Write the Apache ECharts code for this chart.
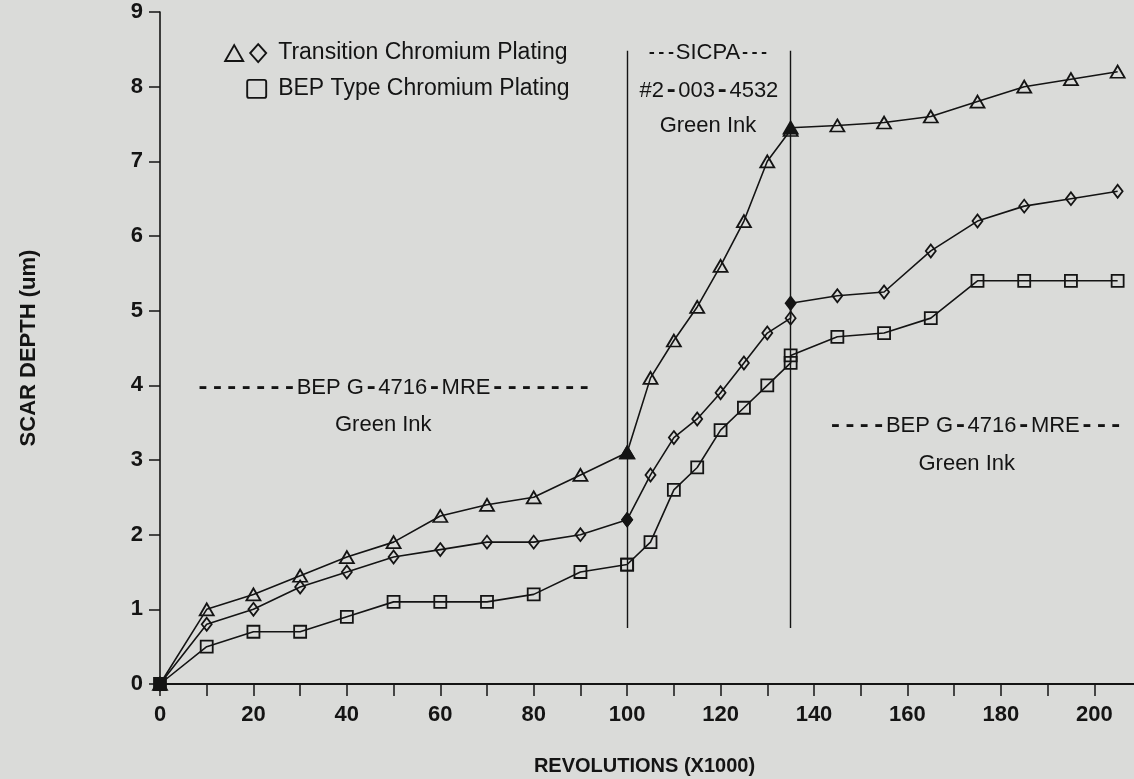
<!DOCTYPE html>
<html>
<head>
<meta charset="utf-8">
<script src="https://cdn.jsdelivr.net/npm/echarts@6/dist/echarts.min.js"></script>
<style>
  html, body { margin: 0; padding: 0; background: #dadbd9; }
  #chart { width: 1134px; height: 779px; }
</style>
</head>
<body>
<div id="chart"></div>
<script>
// Revolutions (x1000) read in each ink phase
const phase1Revs = [0, 10, 20, 30, 40, 50, 60, 70, 80, 90, 100];   // BEP G-4716-MRE
const phase2Revs = [100, 105, 110, 115, 120, 125, 130, 135];        // SICPA #2-003-4532
const phase3Revs = [135, 145, 155, 165, 175, 185, 195, 205];        // BEP G-4716-MRE

// Scar depth (um), transition chromium plating, triangle specimen
const triPhase1 = [0, 1.0, 1.2, 1.45, 1.7, 1.9, 2.25, 2.4, 2.5, 2.8, 3.1];
const triPhase2 = [3.1, 4.1, 4.6, 5.05, 5.6, 6.2, 7.0, 7.42];
const triPhase3 = [7.45, 7.48, 7.52, 7.6, 7.8, 8.0, 8.1, 8.2];

// Scar depth (um), transition chromium plating, diamond specimen
const diaPhase1 = [0, 0.8, 1.0, 1.3, 1.5, 1.7, 1.8, 1.9, 1.9, 2.0, 2.2];
const diaPhase2 = [2.2, 2.8, 3.3, 3.55, 3.9, 4.3, 4.7, 4.9];
const diaPhase3 = [5.1, 5.2, 5.25, 5.8, 6.2, 6.4, 6.5, 6.6];

// Scar depth (um), BEP type chromium plating
const sqPhase1 = [0, 0.5, 0.7, 0.7, 0.9, 1.1, 1.1, 1.1, 1.2, 1.5, 1.6];
const sqPhase2 = [1.6, 1.9, 2.6, 2.9, 3.4, 3.7, 4.0, 4.3];
const sqPhase3 = [4.4, 4.65, 4.7, 4.9, 5.4, 5.4, 5.4, 5.4];

// Ink changeovers
const phaseBounds = [100, 135];

const xTickLabels = [0, 20, 40, 60, 80, 100, 120, 140, 160, 180, 200];
const yTickLabels = [0, 1, 2, 3, 4, 5, 6, 7, 8, 9];

const legendLabels = ['Transition Chromium Plating', 'BEP Type Chromium Plating'];
const xTitle = 'REVOLUTIONS (X1000)';
const yTitle = 'SCAR DEPTH (um)';

const INK = '#141414';
const BG = '#dadbd9';
const SANS = '"Liberation Sans", Arial, sans-serif';
const MONO = '"Liberation Mono", "DejaVu Sans Mono", monospace';

// Build one series from its three phases; the first reading of a phase is
// re-plotted over the previous one, which shows as a solid marker.
function buildSeries(name, symbol, size, phases, solidRestarts) {
  const revs = [phase1Revs, phase2Revs, phase3Revs];
  const data = [];
  phases.forEach((depths, p) => {
    depths.forEach((d, i) => {
      const solid = (p === 0 && i === 0) || (solidRestarts && p > 0 && i === 0);
      const pt = { value: [revs[p][i], d] };
      if (solid) pt.itemStyle = { color: INK };
      data.push(pt);
    });
  });
  return {
    name: name,
    type: 'line',
    data: data,
    symbol: symbol,
    symbolSize: size,
    showAllSymbol: true,
    lineStyle: { color: INK, width: 1.6 },
    itemStyle: { color: 'rgba(0,0,0,0)', borderColor: INK, borderWidth: 1.8 },
    emphasis: { disabled: true },
    animation: false,
    z: 3
  };
}

const seriesTri = buildSeries('tri', 'triangle', [14, 12], [triPhase1, triPhase2, triPhase3], true);
const seriesDia = buildSeries('dia', 'diamond', [10, 13], [diaPhase1, diaPhase2, diaPhase3], true);
const seriesSq = buildSeries('sq', 'rect', [12, 12], [sqPhase1, sqPhase2, sqPhase3], false);

seriesSq.markLine = {
  silent: true,
  symbol: 'none',
  label: { show: false },
  lineStyle: { color: INK, width: 1.4, type: 'solid' },
  data: phaseBounds.map(x => [{ coord: [x, 0.75] }, { coord: [x, 8.48] }])
};

const chart = echarts.init(document.getElementById('chart'), null, { renderer: 'canvas' });

const option = {
  backgroundColor: BG,
  animation: false,
  grid: { left: 160, top: 12, bottom: 95, right: -7, containLabel: false, outerBoundsMode: 'none' },
  xAxis: [{
    type: 'value',
    min: 0, max: 210, interval: 10,
    axisLine: { show: true, onZero: false, lineStyle: { color: INK, width: 2 } },
    axisTick: { show: true, length: 12, lineStyle: { color: INK, width: 1.5 } },
    axisLabel: {
      margin: 20,
      color: INK, fontFamily: SANS, fontSize: 22, fontWeight: 'bold',
      formatter: v => (xTickLabels.indexOf(v) >= 0 ? String(v) : '')
    },
    splitLine: { show: false },
    name: xTitle,
    nameLocation: 'middle',
    nameGap: 72,
    nameTextStyle: { color: INK, fontFamily: SANS, fontSize: 20, fontWeight: 'bold', padding: [0, 12, 0, 0] }
  }, {
    type: 'value',
    position: 'top',
    min: 0, max: 210, interval: 10,
    axisLine: { show: true, lineStyle: { color: INK, width: 1.6 } },
    axisTick: { show: false },
    axisLabel: { show: false },
    splitLine: { show: false }
  }],
  yAxis: {
    type: 'value',
    min: 0, max: 9, interval: 1,
    axisLine: { show: true, onZero: false, lineStyle: { color: INK, width: 1.6 } },
    axisTick: { show: true, length: 11, lineStyle: { color: INK, width: 1.5 } },
    axisLabel: {
      margin: 17,
      color: INK, fontFamily: SANS, fontSize: 22, fontWeight: 'bold',
      formatter: v => (yTickLabels.indexOf(v) >= 0 ? String(v) : '')
    },
    splitLine: { show: false },
    name: yTitle,
    nameLocation: 'middle',
    nameGap: 120,
    nameTextStyle: { color: INK, fontFamily: SANS, fontSize: 22, fontWeight: 'bold' }
  },
  series: [seriesTri, seriesDia, seriesSq]
};

chart.setOption(option);

// Annotations placed in data space
const toPx = (x, y) => chart.convertToPixel({ xAxisIndex: 0, yAxisIndex: 0 }, [x, y]);

function label(x, y, text, rich, extra) {
  const p = toPx(x, y);
  return {
    type: 'text', x: p[0], y: p[1], silent: true, z: 10,
    style: Object.assign({
      text: text,
      fill: INK,
      fontFamily: SANS,
      fontSize: 22,
      align: 'center',
      verticalAlign: 'middle',
      rich: rich || undefined
    }, extra || {})
  };
}

const longDash = { d: { fontFamily: MONO, fontSize: 24, fontWeight: 'bold', fill: INK } };
const shortDash = { d: { fontFamily: MONO, fontSize: 16, fontWeight: 'bold', fill: INK } };

const annotations = [
  label(50, 3.96, '{d|-------}BEP G{d|-}4716{d|-}MRE{d|-------}', longDash),
  label(47.8, 3.47, 'Green Ink'),
  label(117.3, 8.45, '{d|---}SICPA{d|---}', shortDash),
  label(117.5, 7.94, '#2{d|-}003{d|-}4532', longDash),
  label(117.3, 7.47, 'Green Ink'),
  label(174.6, 3.455, '{d|----}BEP G{d|-}4716{d|-}MRE{d|---}', longDash),
  label(172.7, 2.95, 'Green Ink')
];

// Key in the upper left corner
const legendRow1 = toPx(25.3, 8.45);
const legendRow2 = toPx(25.3, 7.97);
const keyItems = [
  { type: 'polygon', silent: true, z: 10,
    shape: { points: [[legendRow1[0] - 53, legendRow1[1] + 8], [legendRow1[0] - 44, legendRow1[1] - 8], [legendRow1[0] - 35, legendRow1[1] + 8]] },
    style: { fill: 'none', stroke: INK, lineWidth: 1.9 } },
  { type: 'polygon', silent: true, z: 10,
    shape: { points: [[legendRow1[0] - 20, legendRow1[1] - 9], [legendRow1[0] - 12, legendRow1[1]], [legendRow1[0] - 20, legendRow1[1] + 9], [legendRow1[0] - 28, legendRow1[1]]] },
    style: { fill: 'none', stroke: INK, lineWidth: 1.9 } },
  { type: 'rect', silent: true, z: 10,
    shape: { x: legendRow2[0] - 31, y: legendRow2[1] - 9, width: 19, height: 18, r: 2 },
    style: { fill: 'none', stroke: INK, lineWidth: 1.9 } },
  { type: 'text', x: legendRow1[0], y: legendRow1[1], silent: true, z: 10,
    style: { text: legendLabels[0], fill: INK, fontFamily: SANS, fontSize: 23, align: 'left', verticalAlign: 'middle' } },
  { type: 'text', x: legendRow2[0], y: legendRow2[1], silent: true, z: 10,
    style: { text: legendLabels[1], fill: INK, fontFamily: SANS, fontSize: 23, align: 'left', verticalAlign: 'middle' } }
];

chart.setOption({ graphic: annotations.concat(keyItems) });
</script>
</body>
</html>
